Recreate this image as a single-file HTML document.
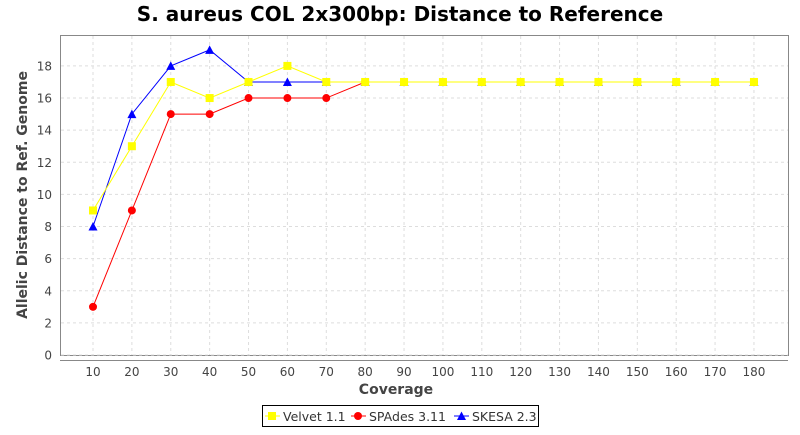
<!DOCTYPE html><html><head><style>body{margin:0;background:#fff}svg text{font-family:"DejaVu Sans","Liberation Sans",sans-serif}</style></head><body>
<svg width="800" height="430" xmlns="http://www.w3.org/2000/svg" id="s">
<text x="400" y="21" text-anchor="middle" font-size="20" font-weight="bold" fill="#000">S. aureus COL 2x300bp: Distance to Reference</text>
<rect x="60.5" y="35.5" width="728" height="320" fill="#fff" stroke="#888"/>
<g id="g"></g>
<line x1="60" y1="360.5" x2="788" y2="360.5" stroke="#888"/>
<text x="396" y="394" text-anchor="middle" font-size="14" font-weight="bold" fill="#444">Coverage</text>
<text transform="translate(27,195) rotate(-90)" text-anchor="middle" font-size="14" font-weight="bold" fill="#444">Allelic Distance to Ref. Genome</text>
<rect x="262.5" y="405.5" width="276" height="21" fill="#fff" stroke="#000"/>
<line x1="265" y1="416" x2="280" y2="416" stroke="#ff0"/><rect x="268" y="412" width="8" height="8" fill="#ff0"/>
<text x="283" y="421" font-size="12.5" fill="#333">Velvet 1.1</text>
<line x1="351" y1="416" x2="366" y2="416" stroke="#f00"/><circle cx="358" cy="416" r="4" fill="#f00"/>
<text x="369" y="421" font-size="12.5" fill="#333">SPAdes 3.11</text>
<line x1="454" y1="416" x2="469" y2="416" stroke="#00f"/><path d="M461.5 411.5 L466 420 L457 420Z" fill="#00f"/>
<text x="472" y="421" font-size="12.5" fill="#333">SKESA 2.3</text>
</svg>
<script>
const g=document.getElementById('g');let h='';
const X=c=>93+(c-10)*3.888,Y=v=>355-16.06*v;
for(let v=0;v<=18;v+=2){h+=`<line x1="61" x2="788" y1="${Y(v)}" y2="${Y(v)}" stroke="#ddd" stroke-dasharray="3,3"/><text x="52" y="${Y(v)+4.5}" text-anchor="end" font-size="12" fill="#444">${v}</text>`;}
for(let c=10;c<=180;c+=10){h+=`<line y1="36" y2="355" x1="${X(c)}" x2="${X(c)}" stroke="#ddd" stroke-dasharray="3,3"/><text x="${X(c)}" y="376" text-anchor="middle" font-size="12" fill="#444">${c}</text>`;}
const cov=[];for(let c=10;c<=180;c+=10)cov.push(c);
const fill17=a=>{while(a.length<18)a.push(17);return a};
const sk=fill17([8,15,18,19,17,17,17]),sp=fill17([3,9,15,15,16,16,16]),ve=fill17([9,13,17,16,17,18]);
function ser(d,col,m){h+=`<polyline fill="none" stroke="${col}" points="${d.map((v,i)=>X(cov[i])+','+Y(v)).join(' ')}"/>`;
d.forEach((v,i)=>{const x=X(cov[i]),y=Y(v);
if(m==0)h+=`<rect x="${x-4}" y="${y-4}" width="8" height="8" fill="${col}"/>`;
else if(m==1)h+=`<circle cx="${x}" cy="${y}" r="4" fill="${col}"/>`;
else h+=`<path d="M${x} ${y-4.5}L${x+4.5} ${y+4}L${x-4.5} ${y+4}Z" fill="${col}"/>`;});}
ser(sk,'#00f',2);ser(sp,'#f00',1);ser(ve,'#ff0',0);
g.innerHTML=h;
</script></body></html>
